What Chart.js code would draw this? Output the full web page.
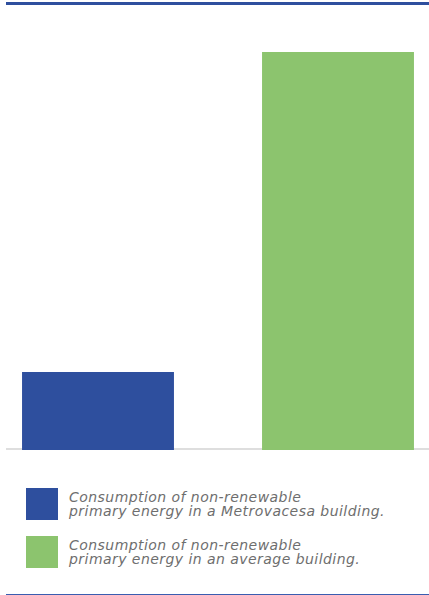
<!DOCTYPE html>
<html>
<head>
<meta charset="utf-8">
<script src="https://cdn.jsdelivr.net/npm/chart.js@4/dist/chart.umd.min.js"></script>
<style>
  html, body { margin: 0; padding: 0; background: #fff; width: 429px; height: 595px; overflow: hidden; position: relative; }
  .rule { position: absolute; left: 6px; right: 0; }
  #topRule { top: 2px; height: 3px; background: #2e4f9e; }
  #baseRule { top: 448px; height: 2px; background: #dedede; }
  #bottomRule { top: 594px; height: 1px; background: #3a5db0; }
  #chartBox { position: absolute; left: -22px; top: 0; width: 480px; height: 460px; }
  #legend { position: absolute; left: 26px; top: 488px; }
  .item { display: flex; align-items: flex-start; height: 48px; }
  .swatch { width: 32px; height: 32px; flex: none; }
  .label { margin-left: 11px; margin-top: 2px; font-family: "DejaVu Sans", sans-serif; font-style: italic; font-size: 14px; letter-spacing: 0.45px; line-height: 14px; color: #6e6e6e; }
</style>
</head>
<body>
<div id="topRule" class="rule"></div>
<div id="baseRule" class="rule"></div>
<div id="chartBox"><canvas id="barChart"></canvas></div>
<div id="legend"></div>
<div id="bottomRule" class="rule"></div>
<script>
  // values (relative, average building = 100)
  const categories = ["Metrovacesa building", "Average building"];
  const values = [19.6, 100];
  const colors = ["#2e4f9e", "#8cc46e"];
  const legendLines = [
    ["Consumption of non-renewable", "primary energy in a Metrovacesa building."],
    ["Consumption of non-renewable", "primary energy in an average building."]
  ];

  const legend = document.getElementById("legend");
  legendLines.forEach(function (lines, i) {
    const item = document.createElement("div");
    item.className = "item";
    const sw = document.createElement("div");
    sw.className = "swatch";
    sw.style.background = colors[i];
    const lab = document.createElement("div");
    lab.className = "label";
    lab.innerHTML = lines.join("<br>");
    item.appendChild(sw);
    item.appendChild(lab);
    legend.appendChild(item);
  });

  new Chart(document.getElementById("barChart"), {
    type: "bar",
    data: {
      labels: categories,
      datasets: [{
        data: values,
        backgroundColor: colors,
        borderWidth: 0,
        barPercentage: 0.633,
        categoryPercentage: 1
      }]
    },
    options: {
      responsive: true,
      maintainAspectRatio: false,
      animation: false,
      layout: { padding: { top: 52, bottom: 10, left: 0, right: 0 } },
      plugins: { legend: { display: false }, tooltip: { enabled: false } },
      scales: {
        x: { display: false },
        y: { display: false, min: 0, max: 100 }
      }
    }
  });
</script>
</body>
</html>
